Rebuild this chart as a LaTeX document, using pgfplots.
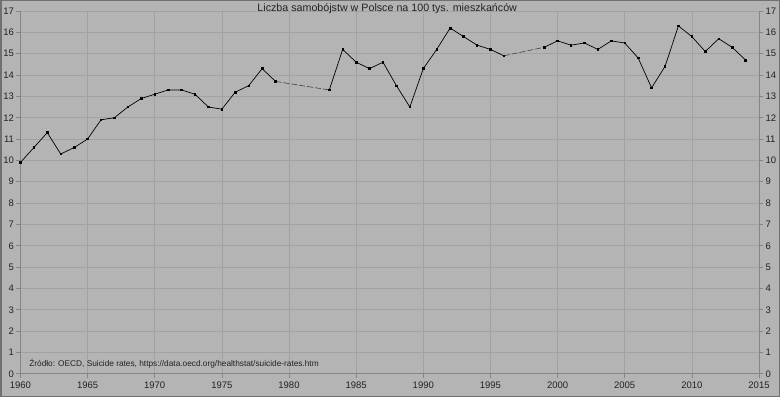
\documentclass[border=0pt]{standalone}
\usepackage{fontspec}
\setmainfont{Liberation Sans}
\usepackage{pgfplots}
\pgfplotsset{compat=1.18}
\definecolor{bg}{HTML}{B4B4B4}
\definecolor{gridc}{HTML}{A2A2A2}
\definecolor{axisc}{HTML}{858585}
\definecolor{framec}{HTML}{707070}
\definecolor{txt}{HTML}{222222}
\begin{document}
\begin{tikzpicture}[x=1pt,y=1pt]
\fill[bg] (0,0) rectangle (780,397);
\draw[framec, line width=1.2pt] (0.6,0.6) rectangle (779.4,396.4);
\pgfplotsset{
  base/.style={
    at={(20pt,23pt)}, anchor=south west,
    scale only axis, width=739pt, height=363pt,
    xmin=1960, xmax=2015, ymin=0, ymax=17,
    xtick={1960,1965,...,2015}, ytick={0,1,...,17},
    tick align=outside, major tick length=4pt,
    tick style={axisc, line width=0.6pt},
    ticklabel style={font=\fontsize{9.5}{10}\selectfont, text=txt},
    /pgf/number format/1000 sep={},
    /pgf/number format/assume math mode=true,
    xticklabel style={yshift=-1pt},
  }
}
\begin{axis}[base,
  axis x line*=bottom, axis y line*=left,
  axis line style={axisc, line width=0.8pt, -},
  grid=major, grid style={gridc, line width=0.6pt},
  yticklabel style={xshift=1pt},
  unbounded coords=jump,
]
\addplot[black, line width=0.7pt, mark=square*, mark size=0.8pt] coordinates {
(1960,9.9) (1961,10.6) (1962,11.3) (1963,10.3) (1964,10.6) (1965,11.0)
(1966,11.9) (1967,12.0) (1968,12.5) (1969,12.9) (1970,13.1) (1971,13.3)
(1972,13.3) (1973,13.1) (1974,12.5) (1975,12.4) (1976,13.2) (1977,13.5)
(1978,14.3) (1979,13.7) (1980,nan) (1983,13.3) (1984,15.2) (1985,14.6)
(1986,14.3) (1987,14.6) (1988,13.5) (1989,12.5) (1990,14.3) (1991,15.2)
(1992,16.2) (1993,15.8) (1994,15.4) (1995,15.2) (1996,14.9) (1997,nan)
(1999,15.3) (2000,15.6) (2001,15.4) (2002,15.5) (2003,15.2) (2004,15.6)
(2005,15.5) (2006,14.8) (2007,13.4) (2008,14.4) (2009,16.3) (2010,15.8)
(2011,15.1) (2012,15.7) (2013,15.3) (2014,14.7)
};
\addplot[black!75, line width=0.6pt, dash pattern=on 6pt off 2pt] coordinates {(1979,13.7) (1983,13.3)};
\addplot[black!75, line width=0.6pt, dash pattern=on 6pt off 2pt] coordinates {(1996,14.9) (1999,15.3)};
\node[anchor=base west, font=\fontsize{8.3}{10}\selectfont, text=txt] at (axis cs:1960.4,0.32) {Źródło: OECD, Suicide rates, https://data.oecd.org/healthstat/suicide-rates.htm};
\end{axis}
\begin{axis}[base,
  axis x line=none, axis y line*=right,
  axis line style={axisc, line width=0.8pt, -},
  yticklabel style={xshift=-1pt},
]
\addplot[draw=none] coordinates {(1960,0)};
\end{axis}
\node[anchor=base, font=\fontsize{10.7}{12}\selectfont, text=txt] at (387,385) {Liczba samobójstw w Polsce na 100 tys. mieszkańców};
\end{tikzpicture}
\end{document}
